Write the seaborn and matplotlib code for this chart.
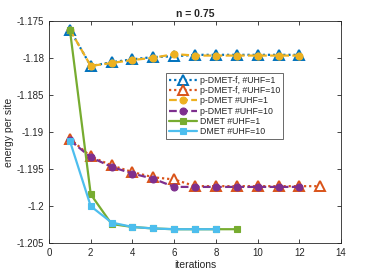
import numpy as np
import matplotlib
matplotlib.use("Agg")
import matplotlib.pyplot as plt
import seaborn as sns

# values
it_f1 = [1, 2, 3, 4, 5, 6, 7, 8, 9, 10, 11, 12]
e_f1 = [-1.1762, -1.1811, -1.1806, -1.1802, -1.1799, -1.1798,
        -1.1796, -1.1796, -1.1796, -1.1796, -1.1796, -1.1796]
it_f10 = [1, 2, 3, 4, 5, 6, 7, 8, 9, 10, 11, 12, 13]
e_f10 = [-1.1909, -1.1933, -1.1945, -1.1954, -1.1961, -1.1964,
         -1.1973, -1.1973, -1.1973, -1.1973, -1.1973, -1.1973, -1.1973]
it_p1 = [1, 2, 3, 4, 5, 6, 7, 8, 9, 10, 11, 12]
e_p1 = [-1.1762, -1.1811, -1.1807, -1.1803, -1.1800, -1.1795,
        -1.1797, -1.1797, -1.1797, -1.1797, -1.1797, -1.1797]
it_p10 = [1, 2, 3, 4, 5, 6, 7, 8, 9, 10, 11, 12]
e_p10 = [-1.1911, -1.1934, -1.1947, -1.1956, -1.1963, -1.1974,
         -1.1974, -1.1974, -1.1974, -1.1974, -1.1974, -1.1974]
it_d1 = [1, 2, 3, 4, 5, 6, 7, 8, 9]
e_d1 = [-1.1762, -1.1984, -1.2024, -1.2028, -1.2030, -1.2031,
        -1.2031, -1.2031, -1.2031]
it_d10 = [1, 2, 3, 4, 5, 6, 7, 8]
e_d10 = [-1.1912, -1.2000, -1.2022, -1.2028, -1.2030, -1.2031,
         -1.2031, -1.2031]

series = [
    ("p-DMET-f, #UHF=1", it_f1, e_f1, "#0072BD", ":", "^", True),
    ("p-DMET-f, #UHF=10", it_f10, e_f10, "#D95319", ":", "^", True),
    ("p-DMET #UHF=1", it_p1, e_p1, "#EDB120", "--", "o", False),
    ("p-DMET #UHF=10", it_p10, e_p10, "#7E2F8E", "--", "o", False),
    ("DMET #UHF=1", it_d1, e_d1, "#77AC30", "-", "s", False),
    ("DMET #UHF=10", it_d10, e_d10, "#4DBEEE", "-", "s", False),
]

sns.set_theme(style="white")
plt.rcParams["font.family"] = ["Liberation Sans", "DejaVu Sans"]

fig = plt.figure(figsize=(3.77, 2.74), dpi=100)
ax = fig.add_axes([0.13, 0.112, 0.775, 0.8125])

for name, xs, ys, col, ls, mk, hollow in series:
    kw = dict(markerfacecolor="white" if hollow else col,
              markeredgecolor=col, markeredgewidth=1.4 if hollow else 0.8,
              markersize=6.5 if hollow else 5)
    if ls == ":":
        kw["dashes"] = (1, 1.3)
    elif ls == "--":
        kw["dashes"] = (3.5, 1.5)
    sns.lineplot(x=xs, y=ys, ax=ax, color=col, marker=mk,
                 linewidth=1.6, label=name, **kw)

ax.set_xlim(0, 14)
ax.set_ylim(-1.205, -1.175)
ax.set_xticks([0, 2, 4, 6, 8, 10, 12, 14])
ax.set_yticks([-1.205, -1.2, -1.195, -1.19, -1.185, -1.18, -1.175])
ax.set_yticklabels(["-1.205", "-1.2", "-1.195", "-1.19", "-1.185", "-1.18", "-1.175"])
ax.tick_params(direction="in", length=3, labelsize=7, colors="#262626",
               top=True, right=True, bottom=True, left=True, width=0.6)
for s in ax.spines.values():
    s.set_color("#262626")
    s.set_linewidth(0.6)

ax.set_xlabel("iterations", fontsize=7.5, color="#262626", labelpad=1)
ax.set_ylabel("energy per site", fontsize=7.5, color="#262626", labelpad=2)
ax.set_title("n = 0.75", fontsize=7.5, fontweight="bold", pad=3)

leg = ax.legend(loc="upper left", bbox_to_anchor=(0.40, 0.764), borderaxespad=0,
                fontsize=6.3, frameon=True, fancybox=False, handlelength=3.2,
                handletextpad=0.4, labelspacing=0.15, borderpad=0.3)
leg.get_frame().set_edgecolor("#262626")
leg.get_frame().set_linewidth(0.6)

fig.savefig("out.png", dpi=100)
